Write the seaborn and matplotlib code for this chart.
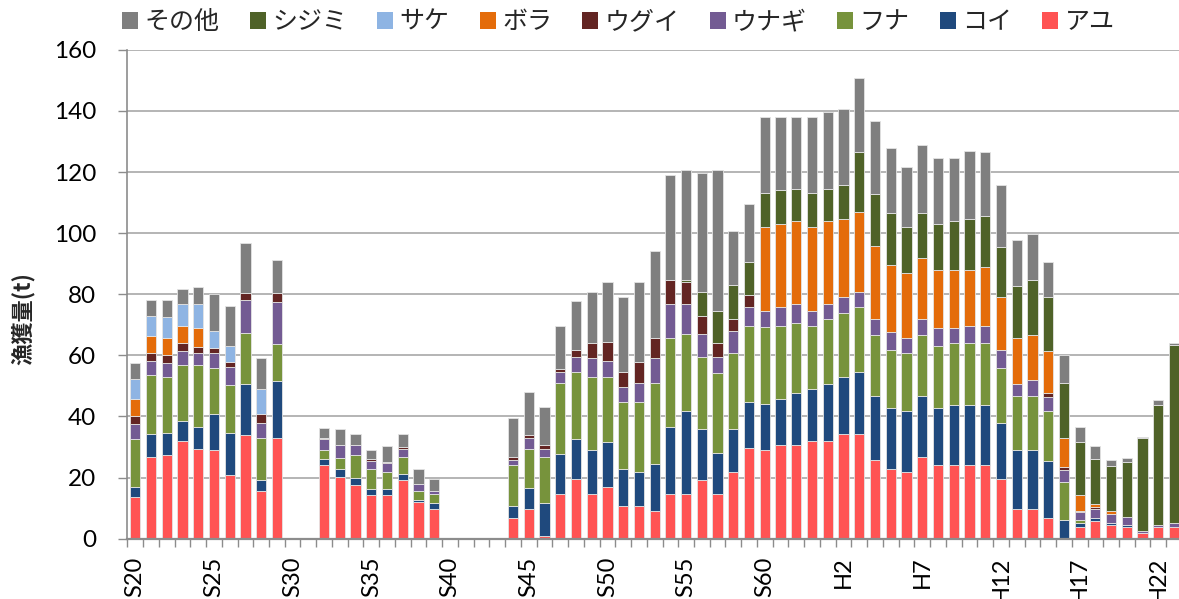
import numpy as np
import matplotlib
matplotlib.use("Agg")
import matplotlib.pyplot as plt
from matplotlib.patches import Patch
import seaborn as sns

# Fiscal years S20 (1945) .. S63 (1988), H1 (1989) .. H23 (2011)
years = [f"S{n}" for n in range(20, 64)] + [f"H{n}" for n in range(1, 24)]

# Catch per species (t), one entry per year
ayu = [13.7, 26.8, 27.4, 31.9, 29.5, 29.0, 20.8, 34.0, 15.7, 33.0,
       0, 0, 24.1, 20.2, 17.5, 14.2, 14.2, 19.2, 11.9, 9.7,
       0, 0, 0, 0, 6.9, 9.6, 0.9, 14.6, 19.6, 14.6,
       16.9, 10.8, 10.8, 9.2, 14.6, 14.6, 19.2, 14.6, 21.9, 29.6,
       29.0, 30.7, 30.7, 31.9, 31.9, 34.1, 34.1, 25.7, 22.9, 21.8,
       26.8, 24.1, 24.1, 24.1, 24.1, 19.6, 9.6, 9.6, 6.9, 0,
       3.9, 5.7, 4.6, 3.9, 1.9, 3.9, 3.9]
koi = [3.1, 7.3, 7.2, 6.5, 7.1, 11.8, 13.8, 16.7, 3.4, 18.7,
       0, 0, 2.0, 2.7, 2.4, 1.9, 1.9, 2.1, 0.8, 1.9,
       0, 0, 0, 0, 3.8, 7.1, 10.9, 13.2, 13.1, 14.4,
       14.8, 12.1, 11.0, 15.3, 22.1, 27.3, 16.6, 13.3, 13.9, 15.0,
       15.1, 14.9, 17.1, 17.2, 18.8, 18.8, 20.5, 21.1, 19.9, 20.0,
       20.0, 18.7, 19.8, 19.8, 19.8, 18.3, 19.4, 19.4, 18.6, 6.2,
       1.2, 1.1, 0.6, 0.7, 0, 0, 0]
funa = [15.7, 19.4, 18.4, 18.3, 20.1, 14.9, 15.7, 16.6, 13.7, 11.9,
        0, 0, 2.9, 3.4, 7.4, 6.8, 5.7, 5.5, 3.0, 3.0,
        0, 0, 0, 0, 13.3, 12.7, 15.0, 23.0, 21.9, 24.0,
        21.3, 21.7, 22.8, 26.3, 28.9, 25.0, 23.8, 26.2, 25.1, 25.0,
        25.1, 24.0, 22.9, 20.5, 21.1, 21.1, 21.1, 20.0, 19.0, 19.0,
        20.0, 20.1, 20.1, 20.1, 20.1, 17.8, 17.8, 17.8, 16.2, 12.2,
        1.0, 0, 0, 0, 0, 0, 0]
unagi = [4.9, 4.6, 4.4, 4.7, 4.1, 5.1, 6.0, 10.7, 5.1, 13.9,
         0, 0, 3.5, 4.4, 3.4, 2.6, 3.0, 2.7, 2.3, 1.1,
         0, 0, 0, 0, 1.6, 3.4, 2.7, 3.7, 4.9, 6.1,
         5.1, 5.1, 6.2, 8.3, 11.2, 9.9, 7.3, 5.5, 7.0, 6.2,
         5.4, 6.1, 6.1, 5.0, 4.9, 5.0, 4.9, 5.0, 5.9, 4.9,
         5.0, 6.1, 5.0, 5.6, 5.6, 6.1, 3.9, 5.0, 4.5, 3.9,
         2.6, 3.0, 2.9, 2.6, 0.5, 0.7, 1.2]
ugui = [2.7, 2.5, 2.6, 2.5, 2.0, 1.5, 1.5, 2.5, 2.9, 3.0,
        0, 0, 0.5, 0, 0, 0.4, 0.4, 0.4, 0, 0,
        0, 0, 0, 0, 1.1, 1.1, 1.1, 1.1, 2.3, 4.8,
        6.4, 4.9, 7.1, 6.6, 7.8, 7.3, 6.1, 4.3, 3.9, 3.8,
        0, 0, 0, 0, 0, 0, 0, 0, 0, 0,
        0, 0, 0, 0, 0, 0, 0, 0, 1.5, 1.1,
        0.4, 0.4, 0, 0, 0, 0, 0]
bora = [5.6, 5.8, 5.8, 5.7, 6.2, 0, 0, 0, 0, 0,
        0, 0, 0, 0, 0, 0, 0, 0, 0, 0,
        0, 0, 0, 0, 0, 0, 0, 0, 0, 0,
        0, 0, 0, 0, 0, 0, 0, 0, 0, 0,
        27.4, 27.4, 27.3, 27.4, 27.3, 25.6, 26.2, 24.0, 21.9, 21.1,
        20.0, 18.9, 18.9, 18.3, 19.4, 17.3, 14.9, 15.0, 13.6, 9.5,
        5.1, 1.0, 0.9, 0, 0, 0, 0]
sake = [6.6, 6.6, 6.7, 7.2, 7.8, 5.6, 5.3, 0, 8.1, 0] + [0] * 57
shijimi = [0] * 35 + [
          0.5, 7.6, 10.7, 11.1, 11.1,
          11.0, 10.9, 10.5, 11.0, 10.5, 11.1, 19.9, 17.1, 17.1, 15.1,
          14.9, 15.1, 16.2, 16.7, 16.7, 16.5, 17.2, 17.7, 17.8, 18.2,
          17.5, 15.0, 14.9, 18.0, 30.4, 39.2, 58.3]
sonota = [5.1, 5.0, 5.5, 5.0, 5.5, 12.2, 13.0, 16.2, 10.2, 10.7,
          0, 0, 3.2, 5.1, 3.4, 3.1, 5.0, 4.2, 4.9, 3.9,
          0, 0, 0, 0, 12.9, 14.0, 12.4, 14.0, 16.1, 16.7,
          19.5, 24.5, 26.1, 28.4, 34.4, 36.0, 39.0, 46.0, 17.8, 18.9,
          25.0, 24.0, 23.4, 25.0, 25.2, 24.9, 24.0, 23.9, 21.1, 19.9,
          22.3, 21.6, 20.5, 22.3, 20.8, 20.1, 15.1, 15.2, 11.6, 8.9,
          5.0, 4.0, 1.7, 1.1, 0.6, 1.5, 0.6]

# Stacking order, bottom to top
species = ["アユ", "コイ", "フナ", "ウナギ", "ウグイ", "ボラ", "サケ", "シジミ", "その他"]
series = [ayu, koi, funa, unagi, ugui, bora, sake, shijimi, sonota]
colors = ["#FF5353", "#1F497D", "#77933C", "#735B93", "#632523",
          "#E46C0A", "#8EB4E3", "#4F6228", "#7F7F7F"]

sns.set_style("ticks")
plt.rcParams["font.family"] = ["Lato", "Noto Sans CJK JP", "DejaVu Sans"]

fig = plt.figure(figsize=(11.79, 5.99), dpi=100)
ax = fig.add_axes([0.108, 0.1008, 0.8945, 0.8160])
ax.set_axisbelow(True)
ax.yaxis.grid(True, color="#A0A0A0", linewidth=1.1)

pos = np.arange(len(years))
base = np.zeros(len(years))
for name, vals, col in zip(species, series, colors):
    v = np.asarray(vals, dtype=float)
    m = v > 0
    sns.barplot(x=pos[m], y=v[m], bottom=base[m], native_scale=True,
                width=0.65, color=col, saturation=1, errorbar=None,
                edgecolor="#E4E4E4", linewidth=0.6, ax=ax)
    base += v

ax.set_xlim(-0.5, len(years) - 0.5)
ax.set_ylim(0, 160)
ax.set_yticks(range(0, 161, 20))
ax.tick_params(axis="y", left=True, length=6.5, width=1, color="#8C8C8C",
               pad=16, labelsize=17.5, labelcolor="black")

label_pos = list(range(0, len(years), 5))
ax.set_xticks(label_pos)
ax.set_xticklabels([years[i] for i in label_pos], rotation=90)
ax.set_xticks(np.arange(-0.5, len(years), 1), minor=True)
ax.tick_params(axis="x", which="major", bottom=True, length=0, pad=13,
               labelsize=17, labelcolor="black")
ax.tick_params(axis="x", which="minor", bottom=True, length=6, width=1,
               color="#8C8C8C")

for side in ("top", "right"):
    ax.spines[side].set_visible(False)
ax.spines["left"].set_color("#8C8C8C")
ax.spines["left"].set_linewidth(1.2)
ax.spines["bottom"].set_color("#8C8C8C")
ax.spines["bottom"].set_linewidth(1.6)
ax.set_xlabel("")
ax.set_ylabel("")

fig.text(23 / 1179, 1 - 319 / 599, "漁獲量(t)", rotation=90,
         ha="center", va="center", fontsize=16, fontweight="bold",
         family=["Noto Sans CJK JP", "DejaVu Sans"])

order = list(range(len(species)))[::-1]
handles = [Patch(facecolor=colors[i], edgecolor="none") for i in order]
labels = [species[i] for i in order]
fig.legend(handles, labels, loc="center left",
           bbox_to_anchor=(122 / 1179, 1 - 22 / 599), ncol=9, frameon=False,
           fontsize=18, handlelength=0.65, handleheight=0.65,
           handletextpad=0.25, columnspacing=1.2, borderpad=0,
           borderaxespad=0, prop={"family": ["Noto Sans CJK JP"], "size": 18})

fig.savefig("out.png", dpi=100)
